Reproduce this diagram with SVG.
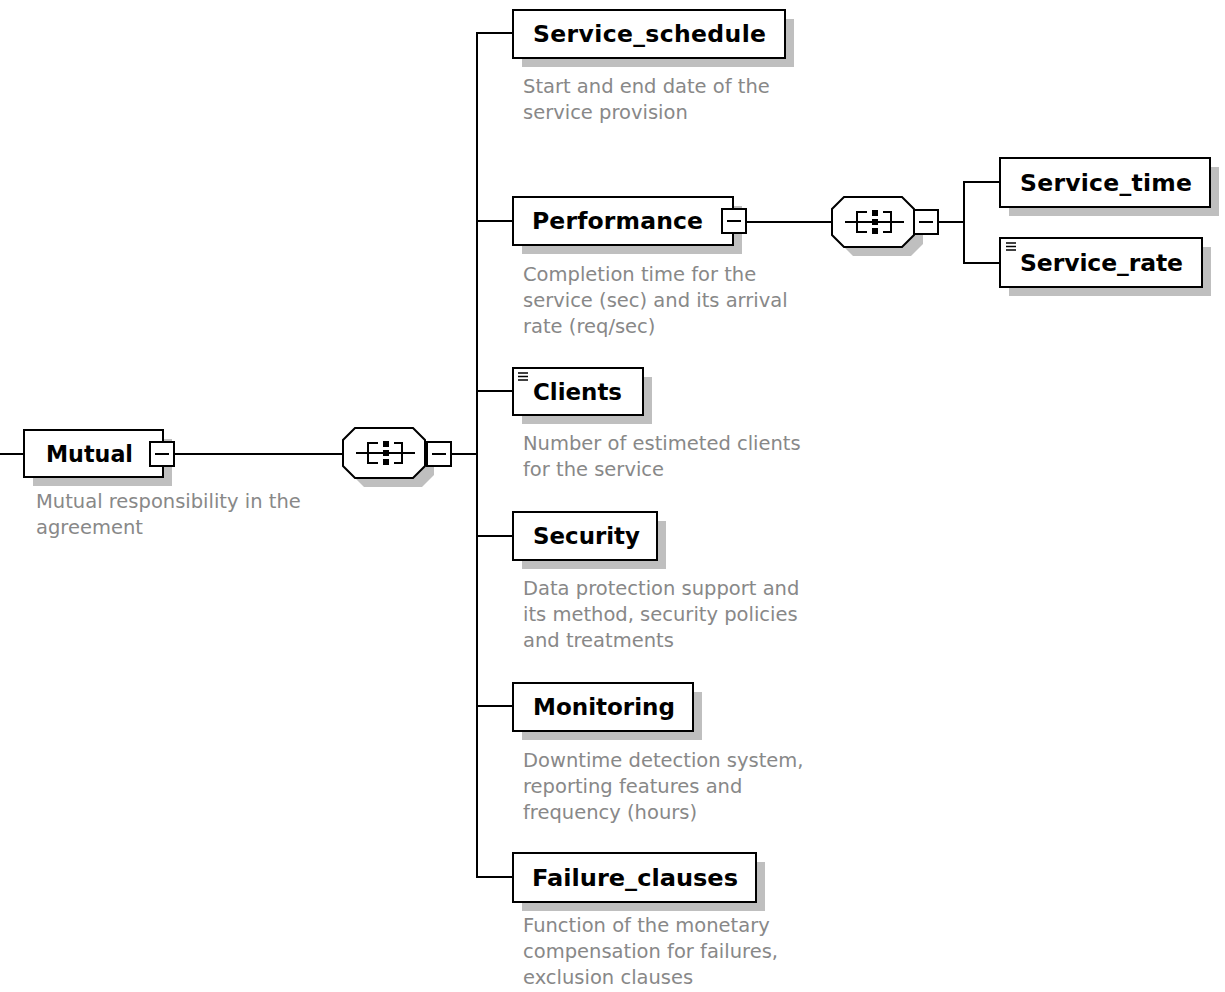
<svg xmlns="http://www.w3.org/2000/svg" xmlns:xlink="http://www.w3.org/1999/xlink" width="1225" height="992" viewBox="0 0 1225 992">
  <style>
    .box { fill: #fff; stroke: #000; stroke-width: 2; }
    .shadow { fill: #bfbfbf; }
    .conn { stroke: #000; stroke-width: 2; fill: none; }
    .lbl { font-family: "DejaVu Sans", Verdana, sans-serif; font-weight: bold; font-size: 23.5px; fill: #000; }
    .desc { font-family: "DejaVu Sans", Verdana, sans-serif; font-size: 19.5px; fill: #888; }
    .mixed { stroke: #000; stroke-width: 1.5; }
  </style>
  <defs>
    <!-- collapse toggle: small square with a minus sign -->
    <g id="minus">
      <rect x="0" y="0" width="24" height="24" fill="#fff" stroke="#000" stroke-width="2"/>
      <line x1="5" y1="12" x2="19" y2="12" stroke="#000" stroke-width="2"/>
    </g>
    <!-- sequence compositor: octagon with bracketed dots -->
    <g id="sequence">
      <polygon points="21,9 79,9 91,21 91,47 79,59 21,59 9,47 9,21" class="shadow"/>
      <polygon points="12,0 70,0 82,12 82,38 70,50 12,50 0,38 0,12" fill="#fff" stroke="#000" stroke-width="2"/>
      <line x1="13" y1="25" x2="72" y2="25" stroke="#000" stroke-width="2"/>
      <path d="M35,15 H25 V35 H35" fill="none" stroke="#000" stroke-width="2"/>
      <rect x="40" y="13" width="6" height="6" fill="#000"/>
      <rect x="40" y="22" width="6" height="6" fill="#000"/>
      <rect x="40" y="31" width="6" height="6" fill="#000"/>
      <path d="M51,15 H59 V35 H51" fill="none" stroke="#000" stroke-width="2"/>
    </g>
    <!-- repeated-content marker in the top-left corner of an element box -->
    <g id="mixed">
      <line x1="0" y1="0" x2="10" y2="0" class="mixed"/>
      <line x1="0" y1="3.5" x2="10" y2="3.5" class="mixed"/>
      <line x1="0" y1="7" x2="10" y2="7" class="mixed"/>
    </g>
  </defs>

  <rect width="1225" height="992" fill="#fff"/>

  <!-- connectors -->
  <g id="connectors">
    <line x1="0" y1="454" x2="24" y2="454" class="conn"/>
    <line x1="174" y1="454" x2="343" y2="454" class="conn"/>
    <line x1="451" y1="454" x2="477" y2="454" class="conn"/>
    <line x1="477" y1="32" x2="477" y2="878" class="conn"/>
    <line x1="476" y1="33" x2="513" y2="33" class="conn"/>
    <line x1="476" y1="221" x2="513" y2="221" class="conn"/>
    <line x1="476" y1="391" x2="513" y2="391" class="conn"/>
    <line x1="476" y1="536" x2="513" y2="536" class="conn"/>
    <line x1="476" y1="706" x2="513" y2="706" class="conn"/>
    <line x1="476" y1="877" x2="513" y2="877" class="conn"/>
    <line x1="746" y1="222" x2="832" y2="222" class="conn"/>
    <line x1="938" y1="222" x2="964" y2="222" class="conn"/>
    <line x1="964" y1="181" x2="964" y2="264" class="conn"/>
    <line x1="963" y1="182" x2="1000" y2="182" class="conn"/>
    <line x1="963" y1="263" x2="1000" y2="263" class="conn"/>
  </g>

  <!-- root element -->
  <g id="mutual">
    <rect x="33" y="439" width="139" height="47" class="shadow"/>
    <rect x="24" y="430" width="139" height="47" class="box"/>
    <text x="46" y="462" class="lbl" textLength="87" lengthAdjust="spacingAndGlyphs">Mutual</text>
    <use xlink:href="#minus" x="150" y="442"/>
    <text class="desc"><tspan x="36" y="508">Mutual responsibility in the</tspan><tspan x="36" y="534">agreement</tspan></text>
  </g>

  <g id="mutual-seq">
    <use xlink:href="#sequence" x="343" y="428"/>
    <use xlink:href="#minus" x="427" y="442"/>
  </g>

  <g id="service-schedule">
    <rect x="522" y="19" width="272" height="48" class="shadow"/>
    <rect x="513" y="10" width="272" height="48" class="box"/>
    <text x="533" y="42" class="lbl" textLength="233" lengthAdjust="spacing">Service_schedule</text>
    <text class="desc"><tspan x="523" y="93">Start and end date of the</tspan><tspan x="523" y="119">service provision</tspan></text>
  </g>

  <g id="performance">
    <rect x="522" y="206" width="220" height="48" class="shadow"/>
    <rect x="513" y="197" width="220" height="48" class="box"/>
    <text x="532" y="229" class="lbl" textLength="171" lengthAdjust="spacing">Performance</text>
    <use xlink:href="#minus" x="722" y="209"/>
    <text class="desc"><tspan x="523" y="281">Completion time for the</tspan><tspan x="523" y="307">service (sec) and its arrival</tspan><tspan x="523" y="333">rate (req/sec)</tspan></text>
  </g>

  <g id="performance-seq">
    <use xlink:href="#sequence" x="832" y="197"/>
    <use xlink:href="#minus" x="914" y="210"/>
  </g>

  <g id="service-time">
    <rect x="1009" y="167" width="210" height="49" class="shadow"/>
    <rect x="1000" y="158" width="210" height="49" class="box"/>
    <text x="1020" y="191" class="lbl" textLength="172" lengthAdjust="spacing">Service_time</text>
  </g>

  <g id="service-rate">
    <rect x="1009" y="247" width="202" height="49" class="shadow"/>
    <rect x="1000" y="238" width="202" height="49" class="box"/>
    <use xlink:href="#mixed" x="1006" y="243"/>
    <text x="1020" y="271" class="lbl" textLength="163" lengthAdjust="spacing">Service_rate</text>
  </g>

  <g id="clients">
    <rect x="522" y="377" width="130" height="47" class="shadow"/>
    <rect x="513" y="368" width="130" height="47" class="box"/>
    <use xlink:href="#mixed" x="518" y="373"/>
    <text x="533" y="400" class="lbl" textLength="89" lengthAdjust="spacingAndGlyphs">Clients</text>
    <text class="desc"><tspan x="523" y="450">Number of estimeted clients</tspan><tspan x="523" y="476">for the service</tspan></text>
  </g>

  <g id="security">
    <rect x="522" y="521" width="144" height="48" class="shadow"/>
    <rect x="513" y="512" width="144" height="48" class="box"/>
    <text x="533" y="544" class="lbl" textLength="107" lengthAdjust="spacingAndGlyphs">Security</text>
    <text class="desc"><tspan x="523" y="595">Data protection support and</tspan><tspan x="523" y="621">its method, security policies</tspan><tspan x="523" y="647">and treatments</tspan></text>
  </g>

  <g id="monitoring">
    <rect x="522" y="692" width="180" height="48" class="shadow"/>
    <rect x="513" y="683" width="180" height="48" class="box"/>
    <text x="533" y="715" class="lbl" textLength="142" lengthAdjust="spacingAndGlyphs">Monitoring</text>
    <text class="desc"><tspan x="523" y="767">Downtime detection system,</tspan><tspan x="523" y="793">reporting features and</tspan><tspan x="523" y="819">frequency (hours)</tspan></text>
  </g>

  <g id="failure-clauses">
    <rect x="522" y="862" width="243" height="49" class="shadow"/>
    <rect x="513" y="853" width="243" height="49" class="box"/>
    <text x="532" y="886" class="lbl" textLength="206" lengthAdjust="spacingAndGlyphs">Failure_clauses</text>
    <text class="desc"><tspan x="523" y="932">Function of the monetary</tspan><tspan x="523" y="958">compensation for failures,</tspan><tspan x="523" y="984">exclusion clauses</tspan></text>
  </g>
</svg>
